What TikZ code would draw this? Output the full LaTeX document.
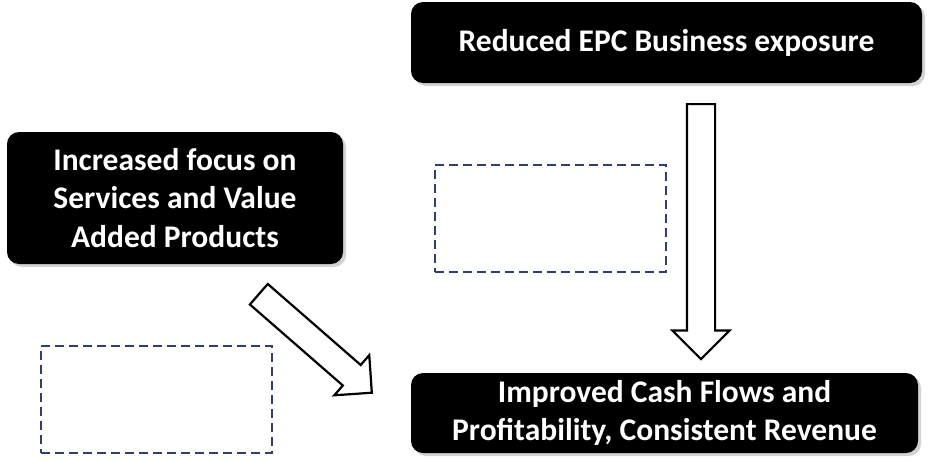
\documentclass[tikz,border=0pt]{standalone}
\usepackage{fontspec}
\setmainfont{Carlito}
\usetikzlibrary{positioning, calc, shapes.arrows, shadows}
\definecolor{slotblue}{RGB}{48,63,112}

\begin{document}
\begin{tikzpicture}[x=1pt, y=-1pt]

			\tikzstyle{box}=[rectangle, rounded corners=12pt, fill=black, text=white, align=center, inner sep=0pt, font=\fontsize{31.5}{38.5}\selectfont\bfseries, drop shadow={shadow xshift=3pt, shadow yshift=-3pt, opacity=0.35}]
			\tikzstyle{slot}=[rectangle, draw=slotblue, dash pattern=on 9pt off 5pt, line width=2pt, minimum width=231pt, minimum height=107pt]
			\tikzstyle{blockarrow}=[single arrow, draw=black, fill=white, line width=2.2pt, inner xsep=0pt, inner ysep=13pt, single arrow head extend=14.5pt, anchor=tail]

			\useasboundingbox (0,0) rectangle (935,461);

			\node at (666.5,42.5) (epc) [box, minimum width=511pt, minimum height=81pt] {Reduced EPC Business exposure};
			\node at (175,198) (services) [box, minimum width=336pt, minimum height=132pt] {Increased focus on\\Services and Value\\Added Products};
			\node at (664.5,413) (cashflow) [box, minimum width=507pt, minimum height=80pt] {Improved Cash Flows and\\Profitability, Consistent Revenue};
			\node at (550.5,218.5) (slotright) [slot] {};
			\node at (156.5,399.5) (slotleft) [slot] {};

			\coordinate (vtail) at (701,103);
			\coordinate (vtip) at (701,358);
			\coordinate (dtail) at (258,293.5);
			\coordinate (dtip) at (371,392);
			\path let \p1=($(vtip)-(vtail)$), \n1={atan2(\y1,\x1)}, \n2={veclen(\x1,\y1)} in
				node[blockarrow, rotate=\n1, minimum height=\n2] (down) at (vtail) {};
			\path let \p1=($(dtip)-(dtail)$), \n1={atan2(\y1,\x1)}, \n2={veclen(\x1,\y1)} in
				node[blockarrow, rotate=\n1, minimum height=\n2, inner ysep=12.5pt, single arrow head extend=13pt] (diag) at (dtail) {};
		\end{tikzpicture}
\end{document}
